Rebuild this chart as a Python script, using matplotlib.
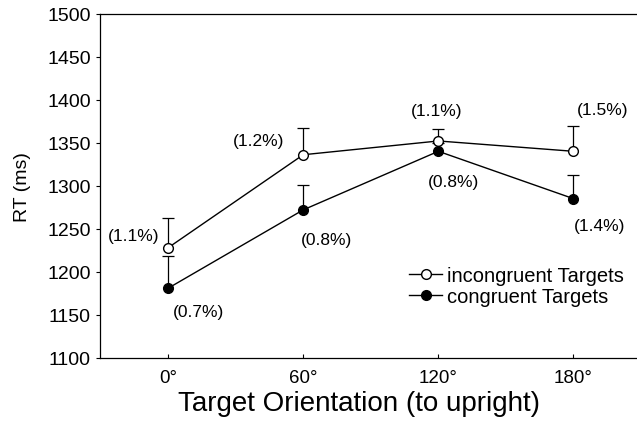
import matplotlib
matplotlib.use("Agg")
import matplotlib.pyplot as plt
import numpy as np

plt.rcParams['font.family'] = ['Liberation Sans', 'DejaVu Sans']

categories = ["0°", "60°", "120°", "180°"]
incongruent = [1228, 1336, 1352, 1340]
incongruent_err = [35, 31, 14, 29]
congruent = [1181, 1272, 1340, 1285]
congruent_err = [37, 29, 10, 27]
incongruent_pct = ["(1.1%)", "(1.2%)", "(1.1%)", "(1.5%)"]
congruent_pct = ["(0.7%)", "(0.8%)", "(0.8%)", "(1.4%)"]

fig = plt.figure(figsize=(6.37, 4.27), dpi=100)
ax = fig.add_axes([100/637, 1-359/427, 1-100/637, (359-14.5)/427])
x = np.arange(len(categories))

for vals, errs in [(incongruent, incongruent_err), (congruent, congruent_err)]:
    eb = ax.errorbar(x, vals, yerr=[np.zeros(4), errs], color='black',
                     elinewidth=0.9, capsize=4.5, capthick=0.9, zorder=2, fmt='none')
    eb[1][0].set_visible(False)  # hide lower caps

ax.plot(x, incongruent, '-o', color='black', lw=1, mfc='white', mec='black',
        ms=7, mew=1, zorder=3, label='incongruent Targets')
ax.plot(x, congruent, '-o', color='black', lw=1, mfc='black', mec='black',
        ms=7, mew=1, zorder=3, label='congruent Targets')

inc_off = [(-25, 9), (-32, 10), (-1, 22), (21, 30)]
con_off = [(22, -17), (17, -21), (11, -22), (19, -19)]
for i in range(4):
    ax.annotate(incongruent_pct[i], (x[i], incongruent[i]), xytext=inc_off[i],
                textcoords='offset points', ha='center', va='center', fontsize=12.5)
    ax.annotate(congruent_pct[i], (x[i], congruent[i]), xytext=con_off[i],
                textcoords='offset points', ha='center', va='center', fontsize=12.5)

ax.set_xlim(-0.504, 3.47)
ax.set_ylim(1100, 1500)
ax.set_yticks(np.arange(1100, 1501, 50))
ax.set_xticks(x)
ax.set_xticklabels(categories)
ax.tick_params(axis='y', direction='out', length=3, labelsize=14, width=0.8)
ax.tick_params(axis='x', direction='in', length=3, labelsize=13.5, width=0.8, pad=8)
ax.spines['right'].set_visible(False)
for s in ['left', 'bottom', 'top']:
    ax.spines[s].set_linewidth(0.9)

ax.set_ylabel('RT (ms)', fontsize=14, labelpad=12)
ax.set_xlabel('Target Orientation (to upright)', fontsize=20)
ax.xaxis.set_label_coords(0.482, -0.13)
ax.xaxis.label.set_va('center')

ax.legend(loc='center left', bbox_to_anchor=(0.55, 0.209), frameon=False,
          fontsize=14.5, handlelength=1.6, handletextpad=0.25, labelspacing=0.1,
          borderpad=0.2)

fig.savefig('out.png', dpi=100)
